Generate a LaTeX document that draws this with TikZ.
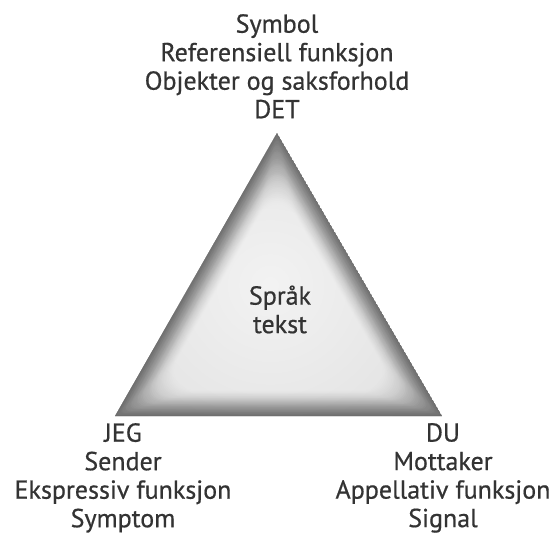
\documentclass[tikz,border=0pt]{standalone}
\usepackage{fontspec}
\setmainfont{PT Sans}[FakeBold=0.6]
\usetikzlibrary{calc}
\definecolor{inktext}{HTML}{333333}
\definecolor{rimgray}{HTML}{5E5E5E}

\begin{document}
\begin{tikzpicture}[x=1pt, y=-1pt, every node/.style={font=\fontsize{26}{28.5}\selectfont, text=inktext, align=center, inner sep=0pt}]
	\useasboundingbox (0,0) rectangle (557,535);
	\coordinate (apex) at (277,133);
	\coordinate (left) at (115,416);
	\coordinate (right) at (442,416);
	\coordinate (mid) at (278,322);
	% triangle with light centre and soft grey rim
	\begin{scope}
		\clip (apex) -- (left) -- (right) -- cycle;
		\shade[inner color=white!95!black, outer color=white!86!black] (270,285) circle[radius=260];
		\foreach \i in {1,...,40}{
			\pgfmathsetmacro\s{1-\i*0.007}
			\pgfmathsetmacro\o{0.07*(1-(\i-1)/40)}
			\fill[rimgray, fill opacity=\o, even odd rule] (apex) -- (left) -- (right) -- cycle
				[rounded corners=\i*1pt] ($(mid)!\s!(apex)$) -- ($(mid)!\s!(left)$) -- ($(mid)!\s!(right)$) -- cycle;
		}
	\end{scope}
	\node[anchor=north] (det) at (277,14) {Symbol\\Referensiell funksjon\\Objekter og saksforhold\\DET};
	\node[anchor=north] (jeg) at (123,423) {JEG\\Sender\\Ekspressiv funksjon\\Symptom};
	\node[anchor=north] (du) at (443,423) {DU\\Mottaker\\Appellativ funksjon\\Signal};
	\node (sprak) at (280,309.5) {Språk\\tekst};
\end{tikzpicture}
\end{document}
